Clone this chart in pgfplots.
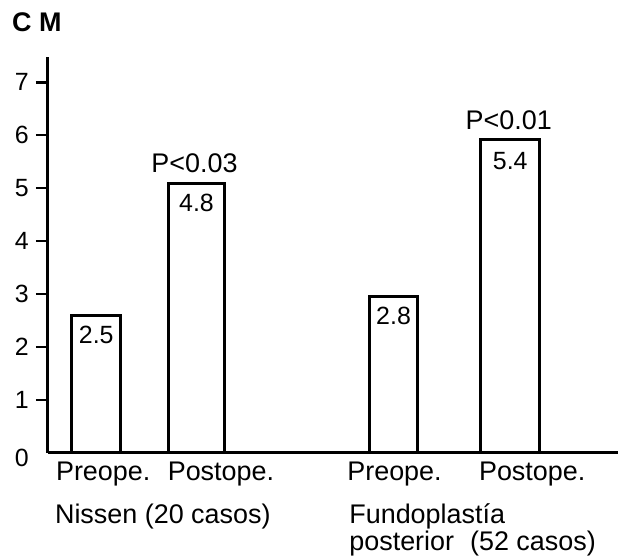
\documentclass[border=0pt]{standalone}
\usepackage{fontspec}
\setmainfont{Liberation Sans}
\usepackage{pgfplots}
\pgfplotsset{compat=1.18}
\newcommand{\lab}{\fontsize{27}{30}\selectfont}
\newcommand{\tlab}{\fontsize{25}{27}\selectfont}
\begin{document}
\begin{tikzpicture}
\path (-48pt,-107pt) rectangle (571pt,454pt);
\begin{axis}[
  at={(0pt,0pt)}, anchor=south west,
  scale only axis, width=571pt, height=397pt,
  xmin=0, xmax=571, ymin=0, ymax=7.48,
  clip=false,
  axis lines=left,
  axis line style={line width=3pt, -},
  xtick=\empty,
  ytick={1,2,3,4,5,6,7},
  extra y ticks={0},
  extra tick style={major tick length=0pt, yticklabel style={xshift=-12pt, yshift=-5pt}},
  tick align=outside,
  major tick length=12pt,
  tick style={line width=2.5pt, black},
  yticklabel style={font=\tlab, inner sep=0pt, xshift=-7pt},
  /pgf/number format/assume math mode=true,
]
\addplot[ybar, bar width=49, bar shift=0pt, draw=black, fill=white, line width=3pt] coordinates {(48.5,2.60)};
\addplot[ybar, bar width=56, bar shift=0pt, draw=black, fill=white, line width=3pt] coordinates {(149,5.09)};
\addplot[ybar, bar width=49, bar shift=0pt, draw=black, fill=white, line width=3pt] coordinates {(346.5,2.96)};
\addplot[ybar, bar width=59, bar shift=0pt, draw=black, fill=white, line width=3pt] coordinates {(463.5,5.91)};
\node[anchor=base, yshift=-28pt, font=\tlab, inner sep=0pt] at (axis cs:48.5,2.60) {2.5};
\node[anchor=base, yshift=-28pt, font=\tlab, inner sep=0pt] at (axis cs:149,5.09) {4.8};
\node[anchor=base, yshift=-28pt, font=\tlab, inner sep=0pt] at (axis cs:346.5,2.96) {2.8};
\node[anchor=base, yshift=-30pt, font=\tlab, inner sep=0pt] at (axis cs:463.5,5.91) {5.4};
\node[anchor=base, yshift=10.5pt, font=\lab, inner sep=0pt] at (axis cs:147,5.09) {P\textless 0.03};
\node[anchor=base, yshift=10.5pt, font=\lab, inner sep=0pt] at (axis cs:462,5.91) {P\textless 0.01};
\end{axis}
\node[anchor=base west, inner sep=0pt, font=\lab\bfseries] at (-36pt,422pt) {C M};
\node[anchor=base west, inner sep=0pt, font=\lab] at (8pt,-28pt) {Preope.};
\node[anchor=base west, inner sep=0pt, font=\lab] at (120pt,-28pt) {Postope.};
\node[anchor=base west, inner sep=0pt, font=\lab] at (300pt,-28pt) {Preope.};
\node[anchor=base west, inner sep=0pt, font=\lab] at (432pt,-28pt) {Postope.};
\node[anchor=base west, inner sep=0pt, font=\lab] at (7pt,-71pt) {Nissen (20 casos)};
\node[anchor=base west, inner sep=0pt, font=\lab] at (302pt,-71pt) {Fundoplastía};
\node[anchor=base west, inner sep=0pt, font=\lab] at (302pt,-98pt) {posterior\hspace{16pt}(52 casos)};
\end{tikzpicture}
\end{document}
